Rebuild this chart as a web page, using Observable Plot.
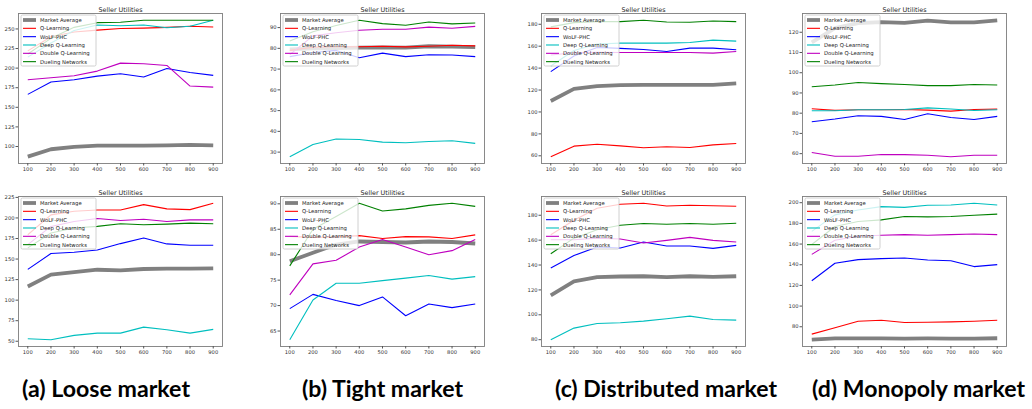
<!DOCTYPE html>
<html><head><meta charset="utf-8">
<script src="https://cdn.jsdelivr.net/npm/d3@7"></script>
<script src="https://cdn.jsdelivr.net/npm/@observablehq/plot@0.6"></script>
<style>
body{margin:0;width:1032px;height:409px;overflow:hidden;background:#fff;position:relative;font-family:"DejaVu Sans",sans-serif;}
.panel{position:absolute;}
#captions{position:absolute;left:0;top:0;}
</style>
</head><body>
<div id="root"></div>
<script>
// ---- data ----
const steps = [100, 200, 300, 400, 500, 600, 700, 800, 900];
const seriesNames = ["Market Average", "Q-Learning", "WoLF-PHC", "Deep Q-Learning", "Double Q-Learning", "Dueling Networks"];
const seriesColors = ["#808080", "#ff0000", "#0000ff", "#00bfbf", "#bf00bf", "#008000"];
const captions = ["(a) Loose market", "(b) Tight market", "(c) Distributed market", "(d) Monopoly market"];
const panelTitle = "Seller Utilities";

// each row follows seriesNames order
const loose1 = [
  [87, 96.5, 99.5, 101, 101, 101, 101.5, 102, 101.5],
  [222, 240, 246, 248.5, 250.5, 251, 252, 253.5, 252.5],
  [166.5, 182.2, 185.2, 189.8, 192.8, 188.6, 199.6, 194.5, 190.7],
  [214, 232, 248, 255, 254, 255, 251.5, 253.5, 261],
  [185.2, 187.7, 190.3, 196.2, 206.4, 205.5, 203.4, 177.1, 175.8],
  [218, 238, 252, 258, 258.5, 261, 261, 261, 261]
];
const tight1 = [
  [79.5, 80, 80.1, 80.3, 80.5, 80.3, 81, 80.8, 80.6],
  [79, 80.5, 80.8, 80.8, 81, 80.7, 81, 81.5, 81.2],
  [76, 78, 79, 75.5, 77.7, 76, 76.9, 76.8, 76],
  [27.8, 33.7, 36.3, 36.1, 34.8, 34.5, 35.1, 35.5, 34.2],
  [77, 86, 87.5, 88.7, 89.2, 89.2, 90.2, 89.7, 90.6],
  [83.5, 88, 91, 93.5, 91.9, 91.1, 92.7, 91.8, 92.2]
];
const distributed1 = [
  [110, 121, 123.5, 124.4, 124.7, 124.7, 124.7, 124.7, 126],
  [59.2, 68.8, 70.6, 69.1, 67.3, 68.2, 67.6, 70, 71.2],
  [136.8, 151, 158.9, 158, 157, 155.2, 158.2, 158.2, 156.7],
  [142, 156, 162, 162.8, 162.8, 162.8, 163.4, 165.5, 164.6],
  [152, 154, 154.5, 154.3, 154.2, 154.2, 154.2, 153.7, 155.2],
  [177.6, 181.5, 182.4, 182.4, 183.6, 182, 181.8, 183, 182.4]
];
const monopoly1 = [
  [115, 122, 124.5, 125, 124.6, 125.7, 124.9, 124.9, 125.9],
  [82.2, 81.4, 81.7, 81.7, 81.8, 81.5, 81, 81.8, 82],
  [75.8, 77.1, 78.7, 78.4, 76.9, 79.7, 77.9, 76.9, 78.4],
  [81.2, 81.2, 81.7, 81.7, 81.8, 82.6, 82.1, 81.3, 81.7],
  [60.6, 58.7, 58.7, 59.6, 59.5, 59.2, 58.5, 59.2, 59.2],
  [93.1, 93.9, 95.2, 94.6, 94.2, 93.6, 93.6, 94.2, 93.9]
];
const loose2 = [
  [116.6, 131, 134.2, 137, 136.2, 137.9, 138.3, 138.3, 138.7],
  [179.6, 203.7, 208.1, 209.7, 209.7, 216.2, 211, 210.1, 217.8],
  [137.4, 156.7, 158.3, 161.1, 168.8, 175.6, 168.4, 166.8, 166.8],
  [53.1, 51.9, 57.1, 59.9, 59.9, 67.2, 64, 59.9, 64.4],
  [167.6, 189.7, 195.7, 199.3, 196.9, 198.5, 195.7, 197.7, 197.7],
  [163.6, 181.6, 187.7, 189.7, 192.9, 191.7, 192.5, 193.7, 192.9]
];
const tight2 = [
  [78.7, 80.4, 82, 82.6, 82.5, 82.4, 82.6, 82.5, 82.2],
  [83.6, 83.4, 83.5, 83.75, 83.2, 83.55, 83.5, 83.2, 83.9],
  [69.4, 72.2, 71, 70, 71.7, 68, 70.3, 69.6, 70.3],
  [63.3, 71.1, 74.4, 74.4, 74.9, 75.4, 75.9, 75.2, 75.7],
  [72.1, 78.2, 78.9, 81.5, 83, 81.5, 80, 80.8, 83],
  [77.8, 85, 87.5, 90.1, 88.6, 89, 89.7, 90.1, 89.5]
];
const distributed2 = [
  [115.6, 126.8, 130.3, 130.8, 131, 130.3, 131, 130.5, 131],
  [164.3, 176, 185.6, 188.8, 189.6, 187.4, 188, 187.7, 187.2],
  [137.7, 147.6, 154.5, 153.7, 158.5, 155.3, 155.3, 153.4, 155.8],
  [80, 89.3, 93, 93.6, 94.9, 96.8, 98.9, 96.2, 95.7],
  [160.3, 160.3, 161.6, 160.9, 157.7, 159.8, 162.2, 159.8, 158.5],
  [149.1, 161.6, 168.3, 172, 173.4, 172.8, 173.4, 172.8, 173.6]
];
const monopoly2 = [
  [67.5, 68.8, 68.8, 68.8, 68.5, 68.7, 68.6, 68.6, 68.9],
  [72.9, 79, 85.4, 86.3, 84.1, 84.4, 84.7, 85.4, 86.3],
  [124.5, 141.4, 144.9, 145.9, 146.5, 144.6, 143.9, 138.2, 140.1],
  [172.3, 188.2, 193, 196.2, 195.5, 197.5, 197.8, 199.4, 197.8],
  [150, 163.7, 167.5, 168.5, 169.1, 168.5, 169.1, 169.7, 169.1],
  [159.6, 177, 181.8, 183.4, 186.6, 186.3, 186.6, 187.9, 188.9]
];

const yTicksLoose1 = [100, 125, 150, 175, 200, 225, 250];
const yTicksTight1 = [30, 40, 50, 60, 70, 80, 90];
const yTicksDistributed1 = [60, 80, 100, 120, 140, 160, 180];
const yTicksMonopoly1 = [60, 70, 80, 90, 100, 110, 120];
const yTicksLoose2 = [50, 75, 100, 125, 150, 175, 200, 225];
const yTicksTight2 = [65, 70, 75, 80, 85, 90];
const yTicksDistributed2 = [80, 100, 120, 140, 160, 180];
const yTicksMonopoly2 = [80, 100, 120, 140, 160, 180, 200];

// ---- layout ----
const colLeft = [18, 280, 541, 802];
const rowTop = [13, 196];
const ML = 30, MR = 6, MT = 13, MB = 17, FW = 204, FH = 150;

function panel(values, yTicks, col, row) {
  const rows = [];
  values.forEach((arr, s) => arr.forEach((v, i) => rows.push({series: seriesNames[s], x: steps[i], y: v})));
  const all = values.flat();
  const lo = d3.min(all), hi = d3.max(all), pad = (hi - lo) * 0.05;
  const xlo = d3.min(steps), xhi = d3.max(steps), xpad = (xhi - xlo) * 0.05;
  const marks = [];
  seriesNames.forEach((name, s) => {
    marks.push(Plot.line(rows.filter(r => r.series === name), {
      x: "x", y: "y", stroke: seriesColors[s], strokeWidth: s === 0 ? 3.8 : 1.1,
      strokeLinejoin: "round", strokeLinecap: "butt"
    }));
  });
  marks.push(Plot.frame({stroke: "#7d7d7d", strokeWidth: 0.9}));
  marks.push(Plot.axisX({ticks: steps, tickSize: 2.5, tickPadding: 1.5, label: null, tickFormat: d => String(d), stroke: "#555"}));
  marks.push(Plot.axisY({ticks: yTicks, tickSize: 2.5, tickPadding: 1.5, label: null, tickFormat: d => String(d), stroke: "#555"}));
  marks.push(Plot.text([panelTitle], {frameAnchor: "top", dy: -6, fontSize: 6.4, fill: "#222", text: d => d}));

  const svg = Plot.plot({
    width: ML + FW + MR, height: MT + FH + MB,
    marginLeft: ML, marginRight: MR, marginTop: MT, marginBottom: MB,
    x: {domain: [xlo - xpad, xhi + xpad]},
    y: {domain: [lo - pad, hi + pad]},
    style: {fontFamily: "DejaVu Sans", fontSize: "5.2px", color: "#333", background: "none", overflow: "visible"},
    marks
  });

  // legend (upper left inside frame)
  const g = d3.select(svg).append("g")
    .attr("transform", `translate(${ML + 3},${MT + 2})`)
    .attr("text-anchor", "start");
  g.append("rect").attr("x", 0).attr("y", 0).attr("width", 75).attr("height", 51).attr("rx", 1.5)
    .style("fill", "#ffffff").style("fill-opacity", 0.8)
    .style("stroke", "#c4c4c4").style("stroke-width", 0.8);
  seriesNames.forEach((name, i) => {
    const y = 5 + i * 8.33;
    g.append("line").attr("x1", 2).attr("x2", 15).attr("y1", y).attr("y2", y)
      .style("stroke", seriesColors[i]).style("stroke-width", i === 0 ? 3.8 : 1.1);
    g.append("text").attr("x", 19).attr("y", y).attr("dy", "0.35em")
      .attr("text-anchor", "start")
      .style("font-size", "5.3px").style("font-family", "DejaVu Sans").style("fill", "#222").text(name);
  });

  const div = document.createElement("div");
  div.className = "panel";
  div.style.left = (colLeft[col] - ML) + "px";
  div.style.top = (rowTop[row] - MT) + "px";
  div.appendChild(svg);
  document.getElementById("root").appendChild(div);
}

panel(loose1, yTicksLoose1, 0, 0);
panel(tight1, yTicksTight1, 1, 0);
panel(distributed1, yTicksDistributed1, 2, 0);
panel(monopoly1, yTicksMonopoly1, 3, 0);
panel(loose2, yTicksLoose2, 0, 1);
panel(tight2, yTicksTight2, 1, 1);
panel(distributed2, yTicksDistributed2, 2, 1);
panel(monopoly2, yTicksMonopoly2, 3, 1);

// captions
const capX = [106, 382.5, 666, 918.5];
const capW = [168, 161, 222, 213];
const cs = d3.select("body").append("svg").attr("id", "captions").attr("width", 1032).attr("height", 409);
captions.forEach((c, i) => {
  cs.append("text").attr("x", capX[i] - capW[i] / 2).attr("y", 397)
    .attr("textLength", capW[i]).attr("lengthAdjust", "spacingAndGlyphs")
    .attr("font-family", "Lato, 'Open Sans', sans-serif").attr("font-weight", 700)
    .attr("font-size", 22).attr("fill", "#000").text(c);
});
</script>
</body></html>
